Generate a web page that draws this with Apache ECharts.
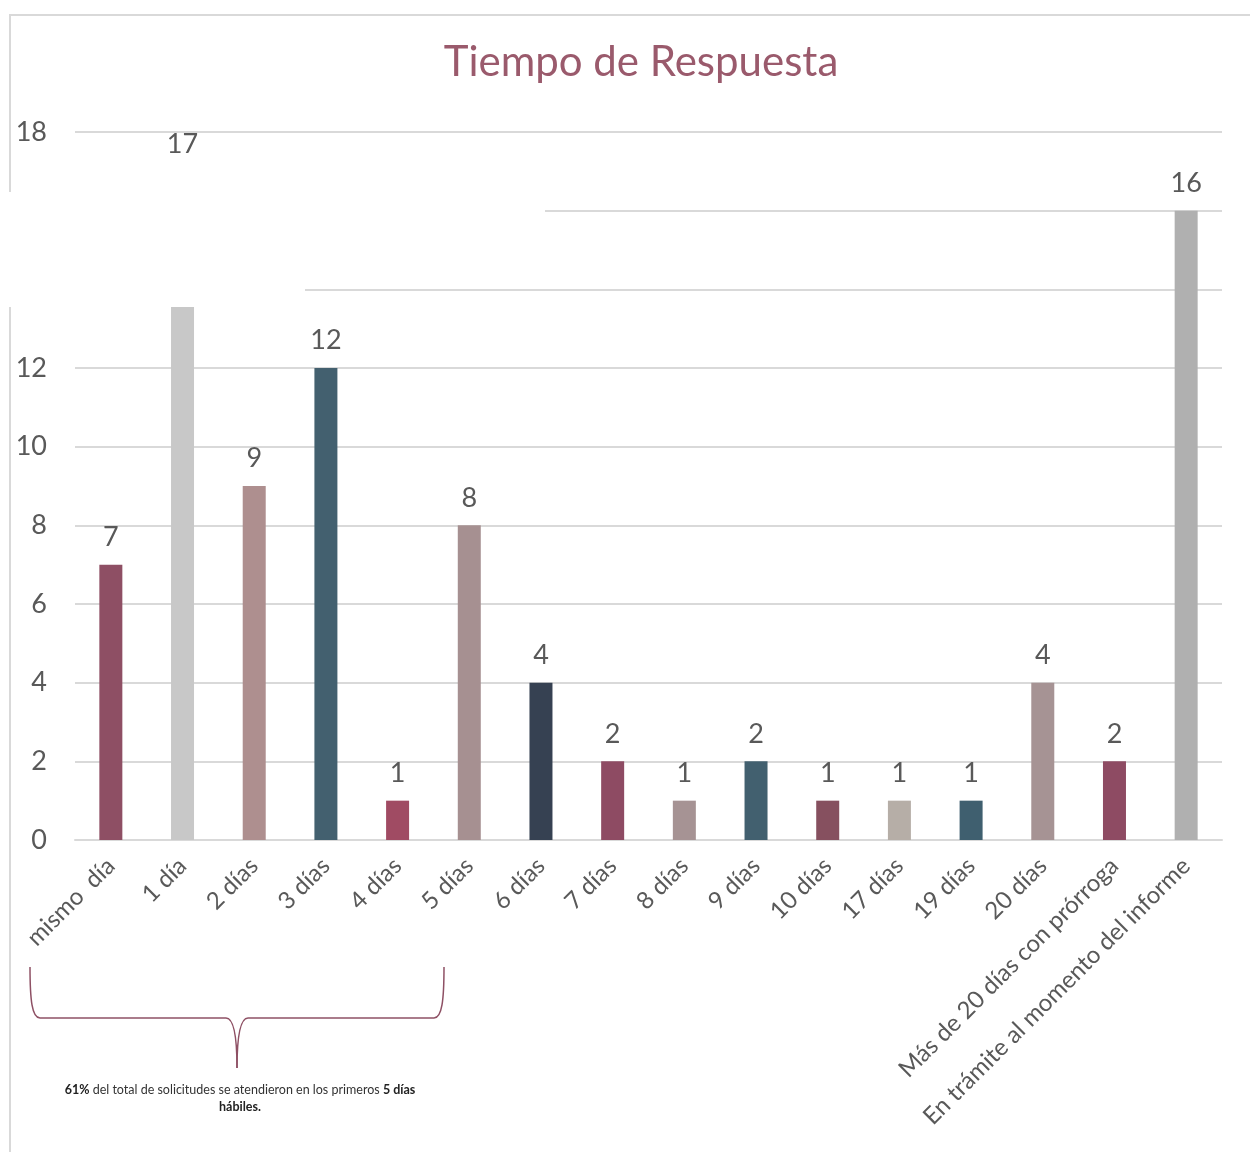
<!DOCTYPE html>
<html>
<head>
<meta charset="utf-8">
<script src="https://cdn.jsdelivr.net/npm/echarts@6/dist/echarts.min.js"></script>
<style>
	html, body { margin: 0; padding: 0; background: #fff; }
	#chart { width: 1250px; height: 1152px; }
</style>
</head>
<body>
<div id="chart"></div>
<script>
var categories = [
	'mismo  día', '1 día', '2 días', '3 días', '4 días', '5 días', '6 días', '7 días',
	'8 días', '9 días', '10 días', '17 días', '19 días', '20 días',
	'Más de 20 días con prórroga', 'En trámite al momento del informe'
];
var values = [7, 17, 9, 12, 1, 8, 4, 2, 1, 2, 1, 1, 1, 4, 2, 16];
var yTicks = { min: 0, max: 18, interval: 2 };

var barColors = [
	'#8e4f64', '#c8c8c8', '#ae8f8f', '#43606f', '#a04b63', '#a69091', '#364152', '#8e4b63',
	'#a69394', '#42606f', '#86505f', '#b6aea7', '#3f5f6f', '#a69394', '#8e4b63', '#b0b0b0'
];
var font = 'Lato, "Open Sans", sans-serif';
var textGray = '#595959';
var gridGray = '#d9d9d9';
var braceColor = '#8e5064';

function curve(x1, y1, cx1, cy1, cx2, cy2, x2, y2) {
	return {
		type: 'bezierCurve', z: 100,
		shape: { x1: x1, y1: y1, cpx1: cx1, cpy1: cy1, cpx2: cx2, cpy2: cy2, x2: x2, y2: y2 },
		style: { stroke: braceColor, lineWidth: 1.5, fill: null }
	};
}
function seg(x1, y1, x2, y2, color, w, z) {
	return {
		type: 'line', z: z,
		shape: { x1: x1, y1: y1, x2: x2, y2: y2 },
		style: { stroke: color, lineWidth: w }
	};
}

var option = {
	animation: false,
	backgroundColor: '#fff',
	title: {
		text: 'Tiempo de Respuesta',
		left: 636,
		top: 36,
		textAlign: 'center',
		textStyle: {
			fontFamily: font,
			fontWeight: 'normal',
			fontSize: 42,
			color: '#9a5a6c'
		}
	},
	grid: {
		left: 75,
		right: 28,
		top: 132,
		bottom: 312
	},
	xAxis: {
		type: 'category',
		data: categories,
		axisLine: { lineStyle: { color: gridGray, width: 2 } },
		axisTick: { show: false },
		axisLabel: {
			interval: 0,
			rotate: 45,
			margin: 22,
			fontFamily: font,
			fontSize: 24,
			color: textGray
		}
	},
	yAxis: {
		type: 'value',
		min: yTicks.min,
		max: yTicks.max,
		interval: yTicks.interval,
		axisLine: { show: false },
		axisTick: { show: false },
		splitLine: { lineStyle: { color: gridGray, width: 2 } },
		axisLabel: {
			margin: 28,
			fontFamily: font,
			fontSize: 27,
			color: textGray
		}
	},
	series: [{
		type: 'bar',
		barWidth: 23,
		data: values.map(function(v, i) {
			return { value: v, itemStyle: { color: barColors[i] } };
		}),
		label: {
			show: true,
			position: 'top',
			distance: 14,
			fontFamily: font,
			fontSize: 27,
			color: textGray
		}
	}],
	graphic: [
		// frame
		seg(10, 15, 1250, 15, gridGray, 2, 50),
		seg(10, 14, 10, 1152, gridGray, 2, 50),
		// white patches pasted over the chart
		{ type: 'rect', z: 100, shape: { x: 8, y: 192, width: 297, height: 115 }, style: { fill: '#fff' } },
		{ type: 'rect', z: 100, shape: { x: 70, y: 160, width: 475, height: 70 }, style: { fill: '#fff' } },
		// brace under the first six bars
		curve(30, 967, 30, 1000, 32, 1018, 40, 1018),
		seg(40, 1018, 226, 1018, braceColor, 1.5, 100),
		curve(226, 1018, 234, 1018, 237, 1040, 237, 1068),
		curve(248, 1018, 240, 1018, 237, 1040, 237, 1068),
		seg(248, 1018, 434, 1018, braceColor, 1.5, 100),
		curve(444, 967, 444, 1000, 442, 1018, 434, 1018),
		{
			type: 'text', z: 100,
			x: 240, y: 1081,
			style: {
				text: '{b|61%} del total de solicitudes se atendieron en los primeros {b|5 días}\n{b|hábiles.}',
				align: 'center',
				fontFamily: font,
				fontSize: 12.5,
				fill: '#333',
				lineHeight: 17,
				rich: {
					b: { fontWeight: 'bold', fontSize: 12.5, fontFamily: font, fill: '#222' }
				}
			}
		}
	]
};

var myChart = echarts.init(document.getElementById('chart'));
myChart.setOption(option);
</script>
</body>
</html>
